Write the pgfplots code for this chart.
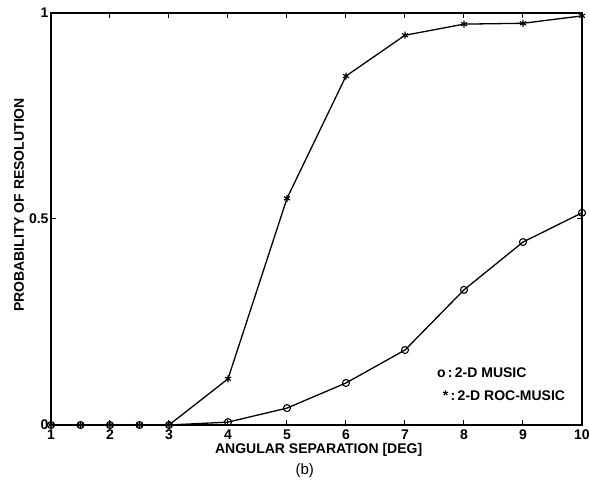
\documentclass[border=0pt]{standalone}
\usepackage{pgfplots}
\pgfplotsset{compat=1.18}
\usepackage{fontspec}
\setmainfont{Liberation Sans}
\begin{document}
\begin{tikzpicture}
\path[use as bounding box] (-51pt,-64pt) rectangle (539pt,425pt);
\begin{axis}[
  at={(0pt,0pt)}, anchor=south west,
  scale only axis, width=531pt, height=412pt,
  xmin=1, xmax=10, ymin=0, ymax=1,
  xtick={1,2,3,4,5,6,7,8,9,10},
  ytick={0,0.5,1},
  tick align=inside, major tick length=5pt,
  axis line style={line width=1.3pt},
  every tick/.style={line width=1pt, black},
  /pgf/number format/assume math mode=true,
  tick label style={font=\bfseries\fontsize{14}{16}\selectfont},
  xticklabel style={yshift=-1pt},
  yticklabel style={xshift=1pt},
  xlabel={ANGULAR SEPARATION [DEG]},
  ylabel={PROBABILITY OF RESOLUTION},
  label style={font=\bfseries\fontsize{14}{16}\selectfont},
  xlabel style={at={(axis description cs:0.504,0)}, anchor=center, yshift=-25pt},
  ylabel style={at={(axis description cs:0,0.534)}, anchor=center, yshift=32pt},
  clip=false,
]
\addplot[black, line width=1.3pt, mark=o, mark size=3.5pt, mark options={line width=1.1pt}]
  coordinates {(1,0) (1.5,0) (2,0) (2.5,0) (3,0) (4,0.007) (5,0.041) (6,0.102) (7,0.182) (8,0.328) (9,0.444) (10,0.515)};
\addplot[black, line width=1.3pt, mark=asterisk, mark size=3.5pt, mark options={line width=1.1pt}]
  coordinates {(1,0) (1.5,0) (2,0) (2.5,0) (3,0) (4,0.112) (5,0.55) (6,0.847) (7,0.946) (8,0.973) (9,0.975) (10,0.993)};
\node[anchor=west, font=\bfseries\fontsize{14}{16}\selectfont, inner sep=0pt] at (axis cs:7.54,0.126) {o\,:\,2-D MUSIC};
\node[anchor=west, font=\bfseries\fontsize{14}{16}\selectfont, inner sep=0pt] at (axis cs:7.64,0.070) {*\,:\,2-D ROC-MUSIC};
\node[font=\fontsize{15}{17}\selectfont, anchor=center] at (axis description cs:0.478,0) [yshift=-46pt] {(b)};
\end{axis}
\end{tikzpicture}
\end{document}
